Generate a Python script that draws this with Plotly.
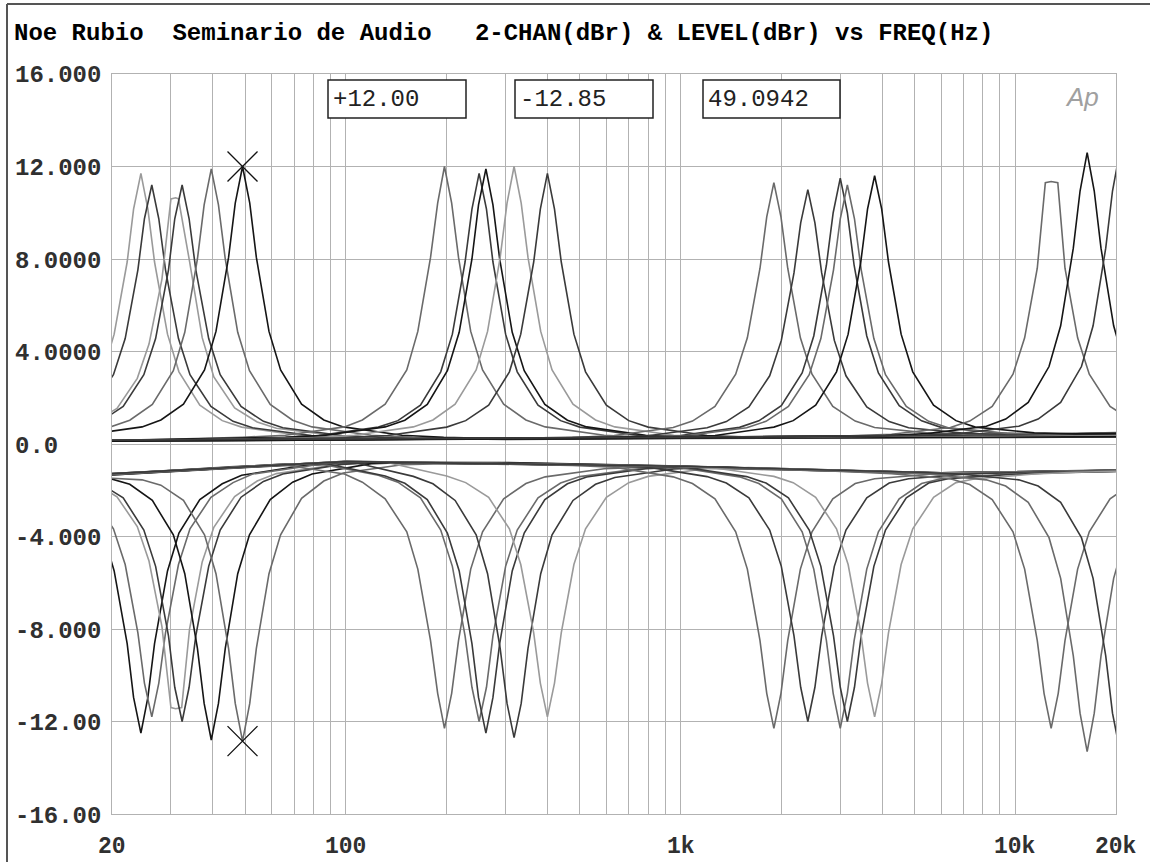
import math
import plotly.graph_objects as go

# ---------------- axis / label data ----------------
x_grid_hz = [30, 40, 50, 60, 70, 80, 90, 100, 200, 300, 400, 500, 600, 700, 800, 900,
             1000, 2000, 3000, 4000, 5000, 6000, 7000, 8000, 9000, 10000]
y_grid_db = [-12, -8, -4, 0, 4, 8, 12]
y_tick_vals = [16, 12, 8, 4, 0, -4, -8, -12, -16]
y_tick_text = ["16.000", "12.000", "8.0000", "4.0000", "0.0", "-4.000", "-8.000", "-12.00", "-16.00"]
x_tick_vals = [20, 100, 1000, 10000, 20000]
x_tick_text = ["20", "100", "1k", "10k", "20k"]

cursor_hz = 49.0942
cursor_db = [12.00, -12.85]
readouts = ["+12.00", "-12.85", "49.0942"]
title_text = "Noe Rubio  Seminario de Audio   2-CHAN(dBr) & LEVEL(dBr) vs FREQ(Hz)"

# ---------------- boost curves (upper half) ----------------
up1_hz = [6.1, 8.1, 12.2, 13.9, 16.3, 18.8, 20.3, 22.2, 23.2, 24.4, 25.6, 26.8, 29.3, 31.7, 36.6, 42.7, 48.8, 73.2, 97.6, 300, 1000, 6000, 30000]
up1_db = [0.29, 0.37, 0.73, 1.01, 1.68, 3.12, 4.75, 7.87, 10.16, 11.7, 10.16, 7.87, 4.75, 3.12, 1.68, 1.01, 0.73, 0.37, 0.29, 0.22, 0.26, 0.3, 0.33]
up2_hz = [6.6, 8.8, 13.2, 15.0, 17.5, 20.2, 21.9, 23.9, 25.0, 26.3, 27.6, 28.9, 31.6, 34.2, 39.5, 46.0, 52.6, 78.9, 105, 300, 1000, 6000, 30000]
up2_db = [0.28, 0.37, 0.7, 0.98, 1.62, 3.0, 4.56, 7.53, 9.74, 11.2, 9.74, 7.53, 4.56, 3.0, 1.62, 0.98, 0.7, 0.37, 0.28, 0.2, 0.24, 0.28, 0.31]
up3_hz = [7.8, 10.3, 15.5, 17.7, 20.7, 23.8, 25.8, 28.2, 30.0, 31.0, 31.6, 34.1, 37.2, 40.3, 46.5, 54.3, 62, 93, 124, 300, 1000, 6000, 30000]
up3_db = [0.28, 0.36, 0.68, 0.94, 1.54, 2.84, 4.32, 7.13, 10.6, 10.65, 10.6, 7.9, 4.6, 2.9, 1.56, 0.95, 0.68, 0.36, 0.28, 0.24, 0.28, 0.33, 0.36]
up4_hz = [8.1, 10.8, 16.2, 18.5, 21.6, 24.9, 27.0, 29.5, 30.8, 32.4, 34.0, 35.6, 38.9, 42.1, 48.6, 56.7, 64.8, 97.2, 130, 300, 1000, 6000, 30000]
up4_db = [0.28, 0.37, 0.7, 0.98, 1.62, 3.0, 4.56, 7.53, 9.74, 11.2, 9.74, 7.53, 4.56, 3.0, 1.62, 0.98, 0.7, 0.37, 0.28, 0.21, 0.25, 0.3, 0.34]
up5_hz = [9.9, 13.2, 19.8, 22.6, 26.4, 30.5, 33.0, 36.0, 37.7, 39.6, 41.6, 43.6, 47.5, 51.5, 59.4, 69.3, 79.2, 119, 158, 300, 1000, 6000, 30000]
up5_db = [0.29, 0.38, 0.74, 1.03, 1.71, 3.17, 4.83, 8.0, 10.34, 11.9, 10.34, 8.0, 4.83, 3.17, 1.71, 1.03, 0.74, 0.38, 0.29, 0.23, 0.27, 0.32, 0.37]
up6_hz = [12.3, 16.4, 24.6, 28.0, 32.7, 37.8, 40.9, 44.6, 46.7, 49.1, 51.6, 54.0, 58.9, 63.8, 73.7, 85.9, 98.2, 147, 196, 300, 1000, 6000, 30000]
up6_db = [0.29, 0.38, 0.74, 1.04, 1.72, 3.2, 4.87, 8.07, 10.42, 12.0, 10.42, 8.07, 4.87, 3.2, 1.72, 1.04, 0.74, 0.38, 0.29, 0.22, 0.26, 0.29, 0.32]

up7_hz = [10, 20, 49, 66, 99, 112, 131, 152, 164, 179, 188, 197, 207, 217, 236, 256, 296, 345, 394, 591, 788, 6000, 30000]
up7_db = [0.12, 0.14, 0.29, 0.38, 0.74, 1.04, 1.72, 3.2, 4.87, 8.07, 10.42, 12.0, 10.42, 8.07, 4.87, 3.2, 1.72, 1.04, 0.74, 0.38, 0.29, 0.35, 0.42]
up8_hz = [10, 20, 63, 83, 125, 143, 167, 192, 208, 227, 238, 250, 263, 275, 300, 325, 375, 438, 500, 750, 1000, 6000, 30000]
up8_db = [0.1, 0.12, 0.27, 0.37, 0.73, 1.01, 1.68, 3.12, 4.75, 7.87, 10.16, 11.7, 10.16, 7.87, 4.75, 3.12, 1.68, 1.01, 0.73, 0.37, 0.29, 0.33, 0.4]
up9_hz = [10, 20, 66, 87, 131, 150, 175, 201, 218, 238, 249, 262, 275, 288, 314, 341, 393, 459, 524, 786, 1048, 6000, 30000]
up9_db = [0.14, 0.16, 0.29, 0.38, 0.74, 1.03, 1.71, 3.17, 4.83, 8.0, 10.34, 11.9, 10.34, 8.0, 4.83, 3.17, 1.71, 1.03, 0.74, 0.38, 0.29, 0.36, 0.44]
up10_hz = [10, 20, 80, 106, 159, 182, 212, 245, 265, 289, 303, 318, 334, 350, 382, 413, 477, 557, 636, 954, 1272, 6000, 30000]
up10_db = [0.11, 0.13, 0.27, 0.38, 0.74, 1.04, 1.72, 3.2, 4.87, 8.07, 10.42, 12.0, 10.42, 8.07, 4.87, 3.2, 1.72, 1.04, 0.74, 0.38, 0.29, 0.34, 0.41]
up11_hz = [10, 20, 100, 133, 200, 228, 267, 308, 333, 364, 381, 400, 420, 440, 480, 520, 600, 700, 800, 1200, 1600, 6000, 30000]
up11_db = [0.13, 0.15, 0.27, 0.37, 0.73, 1.01, 1.68, 3.12, 4.75, 7.87, 10.16, 11.7, 10.16, 7.87, 4.75, 3.12, 1.68, 1.01, 0.73, 0.37, 0.3, 0.37, 0.45]

up12_hz = [10, 20, 100, 475, 633, 950, 1085, 1267, 1461, 1583, 1727, 1809, 1900, 1995, 2090, 2280, 2470, 2850, 3325, 3800, 5700, 7600, 30000]
up12_db = [0.12, 0.14, 0.18, 0.28, 0.37, 0.71, 0.99, 1.63, 3.02, 4.59, 7.6, 9.82, 11.3, 9.82, 7.6, 4.59, 3.02, 1.63, 0.99, 0.71, 0.45, 0.4, 0.5]
up13_hz = [10, 20, 100, 600, 800, 1200, 1370, 1600, 1846, 2000, 2182, 2285, 2400, 2520, 2640, 2880, 3120, 3600, 4200, 4800, 7200, 9600, 30000]
up13_db = [0.1, 0.12, 0.17, 0.28, 0.36, 0.7, 0.97, 1.6, 2.95, 4.48, 7.4, 9.56, 11.0, 9.56, 7.4, 4.48, 2.95, 1.6, 0.97, 0.7, 0.45, 0.42, 0.47]
up14_hz = [10, 20, 100, 750, 1000, 1500, 1713, 2000, 2308, 2500, 2727, 2857, 3000, 3150, 3300, 3600, 3900, 4500, 5250, 6000, 9000, 12000, 30000]
up14_db = [0.14, 0.16, 0.2, 0.3, 0.37, 0.72, 1.0, 1.66, 3.07, 4.67, 7.73, 10.0, 11.5, 10.0, 7.73, 4.67, 3.07, 1.66, 1.0, 0.72, 0.47, 0.42, 0.52]
up15_hz = [10, 20, 100, 788, 1050, 1575, 1800, 2100, 2423, 2625, 2864, 3000, 3150, 3308, 3465, 3780, 4095, 4725, 5513, 6300, 9450, 12600, 30000]
up15_db = [0.11, 0.13, 0.19, 0.3, 0.37, 0.7, 0.98, 1.62, 3.0, 4.56, 7.53, 9.74, 11.2, 9.74, 7.53, 4.56, 3.0, 1.62, 0.98, 0.7, 0.46, 0.43, 0.55]
up16_hz = [10, 20, 100, 950, 1267, 1900, 2170, 2533, 2923, 3167, 3455, 3619, 3800, 3990, 4180, 4560, 4940, 5700, 6650, 7600, 11400, 15200, 30000]
up16_db = [0.13, 0.15, 0.2, 0.31, 0.37, 0.73, 1.01, 1.68, 3.12, 4.75, 7.87, 10.16, 11.6, 10.16, 7.87, 4.75, 3.12, 1.68, 1.01, 0.73, 0.48, 0.44, 0.49]

up17_hz = [10, 20, 100, 1000, 3200, 4267, 6400, 7310, 8533, 9846, 10667, 11636, 12300, 12800, 13400, 14080, 15360, 16640, 19200, 22400, 25600]
up17_db = [0.12, 0.14, 0.18, 0.28, 0.36, 0.42, 0.71, 0.99, 1.63, 3.02, 4.59, 7.6, 11.3, 11.35, 11.3, 7.6, 4.59, 3.02, 1.63, 0.99, 0.71]
up18_hz = [10, 20, 100, 1000, 4100, 5467, 8200, 9364, 10933, 12615, 13667, 14909, 15619, 16400, 17220, 18040, 19680, 21320, 24600]
up18_db = [0.1, 0.12, 0.17, 0.27, 0.37, 0.45, 0.77, 1.08, 1.8, 3.35, 5.11, 8.47, 10.94, 12.6, 10.94, 8.47, 5.11, 3.35, 1.8]
up19_hz = [10, 20, 100, 1000, 5125, 6833, 10250, 11706, 13667, 15769, 17083, 18636, 19524, 20500, 21525, 22550, 24600]
up19_db = [0.14, 0.16, 0.2, 0.29, 0.38, 0.45, 0.77, 1.08, 1.8, 3.35, 5.11, 8.47, 10.94, 12.6, 10.94, 8.47, 5.11]

# ---------------- cut curves (lower half) ----------------
lo1_hz = [6.1, 8.1, 12.2, 13.9, 16.3, 18.8, 20.3, 22.2, 23.2, 24.4, 25.6, 26.8, 29.3, 31.7, 36.6, 42.7, 48.8, 73.2, 97.6, 300, 1000, 6000, 30000]
lo1_db = [-1.35, -1.4, -1.6, -1.85, -2.45, -3.85, -5.49, -8.63, -10.96, -12.5, -10.96, -8.63, -5.49, -3.85, -2.4, -1.72, -1.35, -0.95, -0.82, -0.8, -0.95, -1.25, -1.1]
lo2_hz = [6.6, 8.8, 13.2, 15.0, 17.5, 20.2, 21.9, 23.9, 25.0, 26.3, 27.6, 28.9, 31.6, 34.2, 39.5, 46.0, 52.6, 78.9, 105, 300, 1000, 6000, 30000]
lo2_db = [-1.33, -1.38, -1.55, -1.78, -2.35, -3.67, -5.21, -8.17, -10.34, -11.8, -10.34, -8.17, -5.21, -3.67, -2.31, -1.67, -1.3, -0.93, -0.8, -0.82, -0.98, -1.28, -1.13]
lo3_hz = [7.8, 10.3, 15.5, 17.7, 20.7, 23.8, 25.8, 28.2, 30.0, 31.0, 32.3, 34.1, 37.2, 40.3, 46.5, 54.3, 62, 93, 124, 300, 1000, 6000, 30000]
lo3_db = [-1.32, -1.37, -1.5, -1.7, -2.28, -3.57, -5.06, -7.9, -11.4, -11.45, -11.4, -8.0, -5.1, -3.6, -2.27, -1.6, -1.28, -0.9, -0.78, -0.84, -1.0, -1.3, -1.15]
lo4_hz = [8.1, 10.8, 16.2, 18.5, 21.6, 24.9, 27.0, 29.5, 30.8, 32.4, 34.0, 35.6, 38.9, 42.1, 48.6, 56.7, 64.8, 97.2, 130, 300, 1000, 6000, 30000]
lo4_db = [-1.34, -1.39, -1.52, -1.72, -2.33, -3.72, -5.29, -8.3, -10.52, -12.0, -10.52, -8.3, -5.29, -3.72, -2.3, -1.62, -1.3, -0.88, -0.78, -0.81, -0.96, -1.26, -1.1]
lo5_hz = [9.9, 13.2, 19.8, 22.6, 26.4, 30.5, 33.0, 36.0, 37.7, 39.6, 41.6, 43.6, 47.5, 51.5, 59.4, 69.3, 79.2, 119, 158, 300, 1000, 6000, 30000]
lo5_db = [-1.36, -1.4, -1.5, -1.74, -2.44, -3.93, -5.61, -8.84, -11.22, -12.8, -11.22, -8.84, -5.61, -3.93, -2.4, -1.65, -1.3, -0.85, -0.8, -0.83, -0.97, -1.27, -1.12]
lo6_hz = [12.3, 16.4, 24.6, 28.0, 32.7, 37.8, 40.9, 44.6, 46.7, 49.1, 51.6, 54.0, 58.9, 63.8, 73.7, 85.9, 98.2, 147, 196, 300, 1000, 6000, 30000]
lo6_db = [-1.38, -1.42, -1.55, -1.78, -2.44, -3.93, -5.61, -8.84, -11.22, -12.85, -11.22, -8.84, -5.61, -3.93, -2.35, -1.6, -1.25, -0.9, -0.85, -0.86, -0.99, -1.29, -1.14]

lo7_hz = [10, 20, 49, 66, 99, 112, 131, 152, 164, 179, 188, 197, 207, 217, 236, 256, 296, 345, 394, 591, 788, 6000, 30000]
lo7_db = [-1.4, -1.3, -0.95, -0.92, -1.3, -1.65, -2.37, -3.8, -5.41, -8.5, -10.78, -12.3, -10.78, -8.5, -5.41, -3.8, -2.37, -1.71, -1.42, -1.07, -1.0, -1.25, -1.1]
lo8_hz = [10, 20, 63, 83, 125, 143, 167, 192, 208, 227, 238, 250, 263, 275, 300, 325, 375, 438, 500, 750, 1000, 6000, 30000]
lo8_db = [-1.42, -1.32, -0.88, -0.85, -1.35, -1.65, -2.33, -3.72, -5.29, -8.3, -10.52, -12.0, -10.52, -8.3, -5.29, -3.72, -2.33, -1.69, -1.41, -1.07, -0.98, -1.27, -1.12]
lo9_hz = [10, 20, 66, 87, 131, 150, 175, 201, 218, 238, 249, 262, 275, 288, 314, 341, 393, 459, 524, 786, 1048, 6000, 30000]
lo9_db = [-1.38, -1.28, -0.87, -0.84, -1.38, -1.7, -2.4, -3.85, -5.49, -8.63, -10.96, -12.5, -10.96, -8.63, -5.49, -3.85, -2.4, -1.72, -1.43, -1.07, -0.99, -1.24, -1.09]
lo10_hz = [10, 20, 80, 106, 159, 182, 212, 245, 265, 289, 303, 318, 334, 350, 382, 413, 477, 557, 636, 954, 1272, 6000, 30000]
lo10_db = [-1.44, -1.34, -0.82, -0.8, -1.4, -1.72, -2.44, -3.93, -5.61, -8.84, -11.22, -12.7, -11.22, -8.84, -5.61, -3.93, -2.44, -1.74, -1.45, -1.08, -1.0, -1.28, -1.14]
lo11_hz = [10, 20, 100, 133, 200, 228, 267, 308, 333, 364, 381, 400, 420, 440, 480, 520, 600, 700, 800, 1200, 1600, 6000, 30000]
lo11_db = [-1.4, -1.3, -0.76, -0.8, -1.38, -1.67, -2.31, -3.67, -5.21, -8.17, -10.34, -11.8, -10.34, -8.17, -5.21, -3.67, -2.31, -1.67, -1.4, -1.06, -1.02, -1.26, -1.11]

lo12_hz = [10, 20, 100, 475, 633, 950, 1085, 1267, 1461, 1583, 1727, 1809, 1900, 1995, 2090, 2280, 2470, 2850, 3325, 3800, 5700, 7600, 30000]
lo12_db = [-1.4, -1.3, -0.75, -0.93, -1.0, -1.42, -1.71, -2.37, -3.8, -5.41, -8.5, -10.78, -12.3, -10.78, -8.5, -5.41, -3.8, -2.37, -1.71, -1.5, -1.3, -1.25, -1.1]
lo13_hz = [10, 20, 100, 600, 800, 1200, 1370, 1600, 1846, 2000, 2182, 2285, 2400, 2520, 2640, 2880, 3120, 3600, 4200, 4800, 7200, 9600, 30000]
lo13_db = [-1.42, -1.32, -0.77, -0.92, -1.0, -1.41, -1.69, -2.33, -3.72, -5.29, -8.3, -10.52, -12.0, -10.52, -8.3, -5.29, -3.72, -2.33, -1.69, -1.5, -1.3, -1.24, -1.12]
lo14_hz = [10, 20, 100, 750, 1000, 1500, 1713, 2000, 2308, 2500, 2727, 2857, 3000, 3150, 3300, 3600, 3900, 4500, 5250, 6000, 9000, 12000, 30000]
lo14_db = [-1.38, -1.28, -0.76, -0.94, -1.02, -1.42, -1.71, -2.37, -3.8, -5.41, -8.5, -10.78, -12.3, -10.78, -8.5, -5.41, -3.8, -2.37, -1.71, -1.5, -1.32, -1.24, -1.09]
lo15_hz = [10, 20, 100, 788, 1050, 1575, 1800, 2100, 2423, 2625, 2864, 3000, 3150, 3308, 3465, 3780, 4095, 4725, 5513, 6300, 9450, 12600, 30000]
lo15_db = [-1.44, -1.34, -0.78, -0.95, -1.03, -1.41, -1.69, -2.33, -3.72, -5.29, -8.3, -10.52, -12.0, -10.52, -8.3, -5.29, -3.72, -2.33, -1.69, -1.5, -1.33, -1.25, -1.14]
lo16_hz = [10, 20, 100, 950, 1267, 1900, 2170, 2533, 2923, 3167, 3455, 3619, 3800, 3990, 4180, 4560, 4940, 5700, 6650, 7600, 11400, 15200, 30000]
lo16_db = [-1.4, -1.3, -0.75, -0.96, -1.04, -1.4, -1.67, -2.31, -3.67, -5.21, -8.17, -10.34, -11.8, -10.34, -8.17, -5.21, -3.67, -2.31, -1.67, -1.5, -1.3, -1.22, -1.11]

lo17_hz = [10, 20, 100, 1000, 3200, 4267, 6400, 7310, 8533, 9846, 10667, 11636, 12190, 12800, 13440, 14080, 15360, 16640, 19200, 22400, 25600]
lo17_db = [-1.4, -1.3, -0.75, -0.95, -1.2, -1.28, -1.5, -1.75, -2.4, -3.8, -5.41, -8.5, -10.78, -12.3, -10.78, -8.5, -5.41, -3.8, -2.37, -1.71, -1.42]
lo18_hz = [10, 20, 100, 1000, 4100, 5467, 8200, 9364, 10933, 12615, 13667, 14909, 15619, 16400, 17220, 18040, 19680, 21320, 24600]
lo18_db = [-1.42, -1.32, -0.77, -0.97, -1.22, -1.3, -1.55, -1.82, -2.52, -4.05, -5.81, -9.16, -11.64, -13.3, -11.64, -9.16, -5.81, -4.05, -2.5]
lo19_hz = [10, 20, 100, 1000, 5125, 6833, 10250, 11706, 13667, 15769, 17083, 18636, 19524, 20500, 21525, 22550, 24600]
lo19_db = [-1.38, -1.28, -0.76, -0.96, -1.22, -1.3, -1.55, -1.82, -2.52, -4.05, -5.81, -9.16, -11.64, -13.2, -11.64, -9.16, -5.81]

# ---------------- styles ----------------
BLACK, DARK, GRAY, LIGHT = "#151515", "#3a3a3a", "#6a6a6a", "#9a9a9a"

curves = [
    (up1_hz, up1_db, LIGHT), (up2_hz, up2_db, DARK), (up3_hz, up3_db, LIGHT),
    (up4_hz, up4_db, DARK), (up5_hz, up5_db, GRAY), (up6_hz, up6_db, BLACK),
    (up7_hz, up7_db, GRAY), (up8_hz, up8_db, DARK), (up9_hz, up9_db, BLACK),
    (up10_hz, up10_db, LIGHT), (up11_hz, up11_db, DARK),
    (up12_hz, up12_db, GRAY), (up13_hz, up13_db, DARK), (up14_hz, up14_db, DARK),
    (up15_hz, up15_db, GRAY), (up16_hz, up16_db, BLACK),
    (up17_hz, up17_db, GRAY), (up18_hz, up18_db, BLACK), (up19_hz, up19_db, DARK),
    (lo1_hz, lo1_db, BLACK), (lo2_hz, lo2_db, GRAY), (lo3_hz, lo3_db, LIGHT),
    (lo4_hz, lo4_db, DARK), (lo5_hz, lo5_db, BLACK), (lo6_hz, lo6_db, GRAY),
    (lo7_hz, lo7_db, GRAY), (lo8_hz, lo8_db, GRAY), (lo9_hz, lo9_db, DARK),
    (lo10_hz, lo10_db, DARK), (lo11_hz, lo11_db, LIGHT),
    (lo12_hz, lo12_db, GRAY), (lo13_hz, lo13_db, DARK), (lo14_hz, lo14_db, GRAY),
    (lo15_hz, lo15_db, DARK), (lo16_hz, lo16_db, LIGHT),
    (lo17_hz, lo17_db, GRAY), (lo18_hz, lo18_db, GRAY), (lo19_hz, lo19_db, DARK),
]

W, H = 1152, 862
PL, PR, PT, PB = 112, 1116, 74, 814   # plot area in px
Y_MIN, Y_MAX = -16, 16


def px_x(px):
    return (px - PL) / (PR - PL)


def px_y(py):
    return (PB - py) / (PB - PT)


def db_to_paper(v):
    return (v - Y_MIN) / (Y_MAX - Y_MIN)


fig = go.Figure()
for hz, db, col in curves:
    fig.add_trace(go.Scatter(x=hz, y=db, mode="lines",
                             line=dict(color=col, width=1.6),
                             hoverinfo="skip", showlegend=False))

fig.add_trace(go.Scatter(x=[cursor_hz] * len(cursor_db), y=cursor_db, mode="markers",
                         marker=dict(symbol="x-thin", size=30,
                                     line=dict(color="#111", width=1.3)),
                         hoverinfo="skip", showlegend=False))

GRID = "#b2b2b2"
fig.update_xaxes(type="log", range=[math.log10(20), math.log10(20000)],
                 tickvals=x_grid_hz, showticklabels=False, ticks="",
                 showgrid=True, gridcolor=GRID, gridwidth=1,
                 showline=True, mirror=True, linecolor=GRID, linewidth=1,
                 zeroline=False)
fig.update_yaxes(range=[Y_MIN, Y_MAX], tickvals=y_grid_db, showticklabels=False, ticks="",
                 showgrid=True, gridcolor=GRID, gridwidth=1,
                 showline=True, mirror=True, linecolor=GRID, linewidth=1,
                 zeroline=False)

MONO = "Liberation Mono"
ann = []
ann.append(dict(text=title_text.replace(" ", "\u00a0"), xref="paper", yref="paper",
                x=px_x(12), y=px_y(33), xanchor="left", yanchor="middle", showarrow=False,
                font=dict(family=MONO, size=24, color="#000", weight="bold")))
for v, t in zip(y_tick_vals, y_tick_text):
    ann.append(dict(text=t, xref="paper", yref="paper", x=px_x(13),
                    y=db_to_paper(v) - 2 / (PB - PT),
                    xanchor="left", yanchor="middle", showarrow=False,
                    font=dict(family=MONO, size=24, color="#303030", weight="bold")))
for v, t in zip(x_tick_vals, x_tick_text):
    ann.append(dict(text=t, xref="x", yref="paper", x=math.log10(v), y=px_y(847),
                    xanchor="center", yanchor="middle", showarrow=False,
                    font=dict(family=MONO, size=23, color="#303030", weight="bold")))

box_px = [(328, 466), (515, 653), (703, 840)]
shapes = []
for (x0, x1), txt in zip(box_px, readouts):
    shapes.append(dict(type="rect", xref="paper", yref="paper",
                       x0=px_x(x0), x1=px_x(x1), y0=px_y(118), y1=px_y(80),
                       line=dict(color="#222", width=1.5), fillcolor="white"))
    ann.append(dict(text=txt, xref="paper", yref="paper", x=px_x(x0 + 3), y=px_y(100),
                    xanchor="left", yanchor="middle", showarrow=False,
                    font=dict(family=MONO, size=24, color="#222")))

ann.append(dict(text="<i>Ap</i>", xref="paper", yref="paper", x=px_x(1082), y=px_y(97),
                xanchor="center", yanchor="middle", showarrow=False,
                font=dict(family="Liberation Sans", size=26, color="#a0a0a0")))

# outer frame lines (left and top)
shapes.append(dict(type="line", xref="paper", yref="paper", x0=px_x(7), x1=px_x(7),
                   y0=px_y(4), y1=px_y(862), line=dict(color="#555", width=2)))
shapes.append(dict(type="line", xref="paper", yref="paper", x0=px_x(7), x1=px_x(1150),
                   y0=px_y(4), y1=px_y(4), line=dict(color="#555", width=2)))

fig.update_layout(width=W, height=H, autosize=False,
                  margin=dict(l=PL, r=W - PR, t=PT, b=H - PB, pad=0),
                  paper_bgcolor="white", plot_bgcolor="white",
                  annotations=ann, shapes=shapes, showlegend=False)

fig.write_html("out.html")
